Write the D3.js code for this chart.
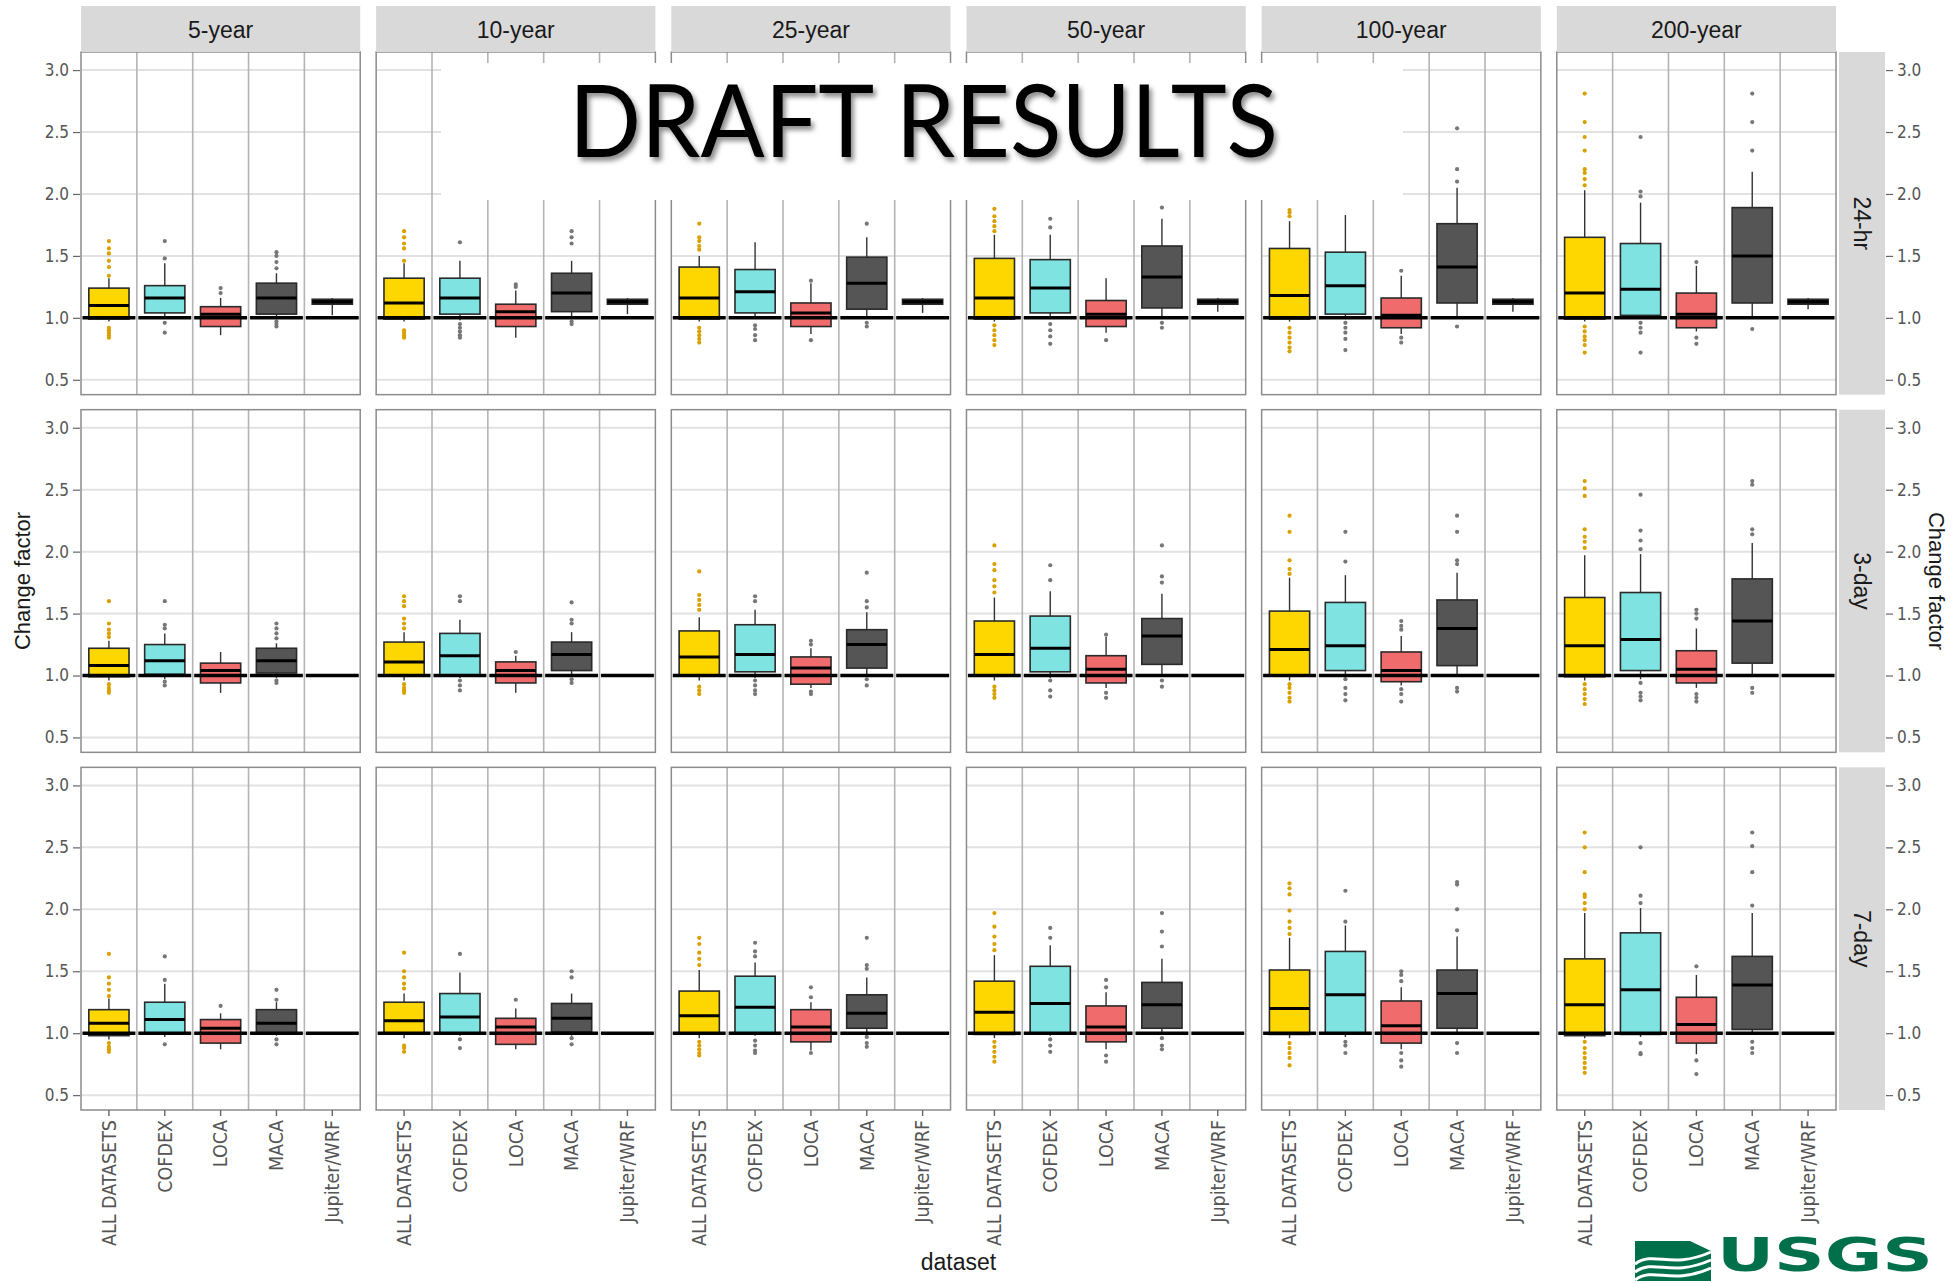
<!DOCTYPE html>
<html>
<head>
<meta charset="utf-8">
<script src="https://cdn.jsdelivr.net/npm/d3@7"></script>
<style>
  body { margin: 0; background: #fff; }
  svg { display: block; overflow: hidden; }
</style>
</head>
<body>
<svg id="chart" width="1959" height="1283"></svg>
<script>
var returnPeriods = ["5-year", "10-year", "25-year", "50-year", "100-year", "200-year"];
var durations = ["24-hr", "3-day", "7-day"];
var datasets = ["ALL DATASETS", "COFDEX", "LOCA", "MACA", "Jupiter/WRF"];
var yTicks = [0.5, 1.0, 1.5, 2.0, 2.5, 3.0];

// box stats per return period, per dataset: [low whisker, q1, median, q3, high whisker]
var box24hr = [
  [[0.97, 0.99, 1.10, 1.24, 1.32], [1.00, 1.04, 1.16, 1.26, 1.44], [0.86, 0.93, 1.03, 1.09, 1.16], [1.00, 1.03, 1.16, 1.28, 1.36], [1.02, 1.11, 1.13, 1.15, 1.16]],
  [[0.97, 0.99, 1.12, 1.32, 1.44], [0.98, 1.03, 1.16, 1.32, 1.46], [0.84, 0.93, 1.05, 1.11, 1.22], [1.00, 1.05, 1.20, 1.36, 1.46], [1.03, 1.11, 1.13, 1.15, 1.16]],
  [[0.97, 0.99, 1.16, 1.41, 1.50], [0.99, 1.04, 1.21, 1.39, 1.61], [0.87, 0.93, 1.04, 1.12, 1.28], [1.00, 1.07, 1.28, 1.49, 1.65], [1.04, 1.11, 1.13, 1.15, 1.16]],
  [[0.97, 0.99, 1.16, 1.48, 1.67], [0.99, 1.04, 1.24, 1.47, 1.67], [0.88, 0.93, 1.03, 1.14, 1.32], [1.00, 1.08, 1.33, 1.58, 1.80], [1.05, 1.11, 1.13, 1.15, 1.16]],
  [[0.97, 0.99, 1.18, 1.56, 1.78], [0.99, 1.03, 1.26, 1.53, 1.83], [0.87, 0.92, 1.02, 1.16, 1.34], [1.00, 1.12, 1.41, 1.76, 2.05], [1.05, 1.11, 1.13, 1.15, 1.16]],
  [[0.97, 0.99, 1.20, 1.65, 2.03], [0.99, 1.02, 1.23, 1.60, 1.93], [0.89, 0.92, 1.03, 1.20, 1.42], [1.00, 1.12, 1.50, 1.89, 2.18], [1.07, 1.11, 1.13, 1.15, 1.16]]
];
var out24hr = [
  [[1.34, 1.41, 1.46, 1.52, 1.56, 1.62, 0.92, 0.90, 0.88, 0.86, 0.84], [1.48, 1.62, 0.96, 0.88], [1.20, 1.24], [1.40, 1.45, 1.50, 1.53, 0.97, 0.95, 0.93], []],
  [[1.46, 1.56, 1.60, 1.65, 1.70, 0.90, 0.88, 0.86, 0.84], [1.61, 0.95, 0.92, 0.89, 0.86, 0.84], [1.25, 1.27], [1.60, 1.65, 1.70, 0.97, 0.95], []],
  [[1.55, 1.58, 1.62, 1.65, 1.76, 0.92, 0.89, 0.86, 0.83, 0.80], [0.94, 0.91, 0.86, 0.82], [1.30, 0.82], [1.76, 0.96, 0.93], []],
  [[1.70, 1.74, 1.78, 1.82, 1.88, 0.94, 0.90, 0.86, 0.82, 0.78], [1.73, 1.80, 0.95, 0.90, 0.85, 0.79], [0.82], [1.89, 0.96, 0.92], []],
  [[1.82, 1.85, 1.87, 0.92, 0.88, 0.84, 0.80, 0.76, 0.73], [0.96, 0.92, 0.88, 0.83, 0.74], [1.38, 0.84, 0.80], [2.10, 2.20, 2.53, 0.93], []],
  [[2.07, 2.12, 2.17, 2.20, 2.35, 2.46, 2.58, 2.81, 0.93, 0.89, 0.85, 0.82, 0.78, 0.72], [1.98, 2.02, 2.46, 0.96, 0.92, 0.88, 0.72], [1.45, 0.84, 0.79], [2.35, 2.58, 2.81, 0.91], []]
];

var box3day = [
  [[0.96, 0.99, 1.08, 1.22, 1.28], [0.97, 1.01, 1.12, 1.25, 1.34], [0.86, 0.94, 1.04, 1.10, 1.19], [0.98, 1.02, 1.12, 1.22, 1.26], null],
  [[0.96, 1.00, 1.11, 1.27, 1.35], [0.98, 1.00, 1.16, 1.34, 1.45], [0.86, 0.94, 1.04, 1.11, 1.16], [1.00, 1.04, 1.17, 1.27, 1.35], null],
  [[0.96, 1.00, 1.15, 1.36, 1.47], [0.98, 1.03, 1.17, 1.41, 1.53], [0.90, 0.93, 1.06, 1.15, 1.22], [1.00, 1.06, 1.25, 1.37, 1.51], null],
  [[0.96, 1.00, 1.17, 1.44, 1.63], [0.98, 1.03, 1.22, 1.48, 1.68], [0.90, 0.94, 1.05, 1.16, 1.31], [1.00, 1.09, 1.32, 1.46, 1.66], null],
  [[0.96, 1.00, 1.21, 1.52, 1.79], [0.98, 1.04, 1.24, 1.59, 1.81], [0.92, 0.95, 1.04, 1.19, 1.32], [1.00, 1.08, 1.38, 1.61, 1.83], null],
  [[0.96, 0.99, 1.24, 1.63, 1.97], [0.97, 1.04, 1.29, 1.67, 1.98], [0.90, 0.94, 1.05, 1.20, 1.38], [1.00, 1.10, 1.44, 1.78, 2.07], null]
];
var out3day = [
  [[1.31, 1.34, 1.37, 1.42, 1.60, 0.93, 0.90, 0.88, 0.86], [1.38, 1.41, 1.60, 0.95, 0.92], [], [1.30, 1.34, 1.38, 1.42, 0.96, 0.94], []],
  [[1.38, 1.42, 1.46, 1.56, 1.60, 1.64, 0.93, 0.90, 0.88, 0.86], [1.60, 1.64, 0.96, 0.92, 0.88], [1.19], [1.42, 1.45, 1.59, 0.97, 0.94], []],
  [[1.53, 1.57, 1.61, 1.65, 1.84, 0.91, 0.88, 0.85], [1.60, 1.64, 0.96, 0.92, 0.88, 0.85], [1.25, 1.28, 0.87, 0.85], [1.55, 1.60, 1.83, 0.97, 0.92], []],
  [[1.67, 1.72, 1.77, 1.85, 1.90, 2.05, 0.91, 0.88, 0.85, 0.82], [1.77, 1.89, 0.96, 0.88, 0.83], [1.33, 0.86, 0.82], [1.75, 1.80, 2.05, 0.96, 0.91], []],
  [[1.82, 1.86, 1.93, 2.16, 2.29, 0.93, 0.90, 0.86, 0.82, 0.79], [1.92, 2.16, 0.97, 0.90, 0.85, 0.80], [1.37, 1.40, 1.44, 0.89, 0.85, 0.79], [1.90, 1.93, 2.16, 2.29, 0.90, 0.87], []],
  [[2.03, 2.08, 2.12, 2.18, 2.45, 2.51, 2.57, 0.93, 0.89, 0.85, 0.81, 0.77], [2.02, 2.09, 2.17, 2.46, 0.94, 0.86, 0.83, 0.80], [1.46, 1.50, 1.53, 0.85, 0.82, 0.79], [2.14, 2.18, 2.54, 2.57, 0.90, 0.86], []]
];

var box7day = [
  [[0.95, 0.98, 1.08, 1.19, 1.28], [0.97, 1.00, 1.11, 1.25, 1.40], [0.87, 0.92, 1.04, 1.11, 1.16], [0.98, 1.00, 1.08, 1.19, 1.25], null],
  [[0.96, 1.00, 1.10, 1.25, 1.32], [0.98, 1.00, 1.13, 1.32, 1.49], [0.87, 0.91, 1.05, 1.12, 1.20], [0.98, 1.01, 1.12, 1.24, 1.32], null],
  [[0.96, 1.00, 1.14, 1.34, 1.51], [0.98, 1.00, 1.21, 1.46, 1.57], [0.86, 0.93, 1.05, 1.19, 1.25], [0.99, 1.04, 1.16, 1.31, 1.45], null],
  [[0.96, 0.99, 1.17, 1.42, 1.63], [0.98, 1.00, 1.24, 1.54, 1.71], [0.87, 0.93, 1.05, 1.22, 1.33], [0.99, 1.04, 1.23, 1.41, 1.60], null],
  [[0.96, 0.99, 1.20, 1.51, 1.77], [0.97, 1.00, 1.31, 1.66, 1.87], [0.87, 0.92, 1.06, 1.26, 1.37], [1.00, 1.04, 1.32, 1.51, 1.78], null],
  [[0.96, 0.98, 1.23, 1.60, 1.97], [0.97, 0.99, 1.35, 1.81, 2.01], [0.83, 0.92, 1.07, 1.29, 1.47], [1.00, 1.03, 1.39, 1.62, 1.97], null]
];
var out7day = [
  [[1.30, 1.35, 1.40, 1.45, 1.64, 0.92, 0.89, 0.87, 0.85], [1.43, 1.62, 0.91], [1.22], [1.27, 1.35, 0.95, 0.91], []],
  [[1.36, 1.40, 1.45, 1.50, 1.65, 0.90, 0.88, 0.85], [1.64, 0.95, 0.88], [1.27], [1.45, 1.50, 0.96, 0.91], []],
  [[1.55, 1.60, 1.65, 1.72, 1.77, 0.93, 0.90, 0.87, 0.84, 0.82], [1.62, 1.66, 1.73, 0.94, 0.90, 0.86, 0.84], [1.29, 1.37, 0.84], [1.52, 1.55, 1.77, 0.97, 0.92, 0.89], []],
  [[1.67, 1.72, 1.78, 1.86, 1.97, 0.93, 0.89, 0.85, 0.81, 0.77], [1.77, 1.85, 0.95, 0.90, 0.85], [1.37, 1.43, 0.82, 0.77], [1.70, 1.82, 1.97, 0.96, 0.90, 0.87], []],
  [[1.80, 1.85, 1.90, 1.99, 2.12, 2.17, 2.21, 0.92, 0.88, 0.84, 0.80, 0.74], [1.90, 2.15, 0.93, 0.90, 0.84], [1.42, 1.47, 1.50, 0.84, 0.78, 0.73], [1.83, 2.00, 2.20, 2.22, 0.92, 0.84], []],
  [[2.00, 2.05, 2.10, 2.12, 2.30, 2.50, 2.62, 0.93, 0.88, 0.84, 0.80, 0.76, 0.72, 0.68], [2.05, 2.11, 2.50, 0.92, 0.84, 0.83], [1.54, 0.78, 0.67], [2.03, 2.30, 2.51, 2.62, 0.93, 0.88, 0.84], []]
];

var boxes = { "24-hr": box24hr, "3-day": box3day, "7-day": box7day };
var outliers = { "24-hr": out24hr, "3-day": out3day, "7-day": out7day };

var fills = ["#FFD700", "#7FE3E1", "#F06B6B", "#555555", "#1a1a1a"];
var dotColors = ["#D9A000", "#777777", "#777777", "#777777", "#777777"];
var font = "'Liberation Sans', Arial, sans-serif";
var narrow = "'Liberation Sans Narrow', 'DejaVu Sans Condensed', 'Liberation Sans', sans-serif";

var svg = d3.select("#chart");

var defs = svg.append("defs");
defs.append("filter").attr("id", "shadow")
    .attr("x", "-5%").attr("y", "-20%").attr("width", "110%").attr("height", "150%")
  .append("feDropShadow")
    .attr("dx", 3).attr("dy", 4).attr("stdDeviation", 2.5)
    .attr("flood-color", "#000").attr("flood-opacity", 0.45);

var col = d3.scaleBand().domain(returnPeriods).range([81, 1836]).paddingInner(0.054);
var row = d3.scaleBand().domain(durations).range([52, 1110]).paddingInner(0.042);
var xIn = d3.scaleBand().domain(datasets).range([0, col.bandwidth()]);
var boxW = xIn.bandwidth() * 0.72;
var pw = col.bandwidth();

durations.forEach(function(dur, i) {
    var top = row(dur), bottom = top + row.bandwidth();
    var y = d3.scaleLinear().domain([0.38, 3.146]).range([bottom, top]);

    returnPeriods.forEach(function(rp, j) {
        var g = svg.append("g").attr("transform", "translate(" + col(rp) + ",0)");

        g.append("rect").attr("x", 0).attr("y", top).attr("width", pw).attr("height", row.bandwidth())
            .attr("fill", "#fff");

        // horizontal grid
        g.selectAll(".hgrid").data(yTicks).enter().append("line")
            .attr("x1", 0).attr("x2", pw)
            .attr("y1", function(d) { return y(d); }).attr("y2", function(d) { return y(d); })
            .attr("stroke", "#e2e2e2").attr("stroke-width", 2);

        // vertical lines between datasets
        g.selectAll(".vgrid").data(datasets.slice(1)).enter().append("line")
            .attr("x1", function(d) { return xIn(d); }).attr("x2", function(d) { return xIn(d); })
            .attr("y1", top).attr("y2", bottom)
            .attr("stroke", "#b4b4b4").attr("stroke-width", 1.6);

        var stats = boxes[dur][j];
        var outs = outliers[dur][j];

        datasets.forEach(function(ds, k) {
            var s = stats[k];
            if (!s) return;
            var cx = xIn(ds) + xIn.bandwidth() / 2;
            var bg = g.append("g");
            bg.append("line").attr("x1", cx).attr("x2", cx)
                .attr("y1", y(s[0])).attr("y2", y(s[1]))
                .attr("stroke", "#333").attr("stroke-width", 1.4);
            bg.append("line").attr("x1", cx).attr("x2", cx)
                .attr("y1", y(s[3])).attr("y2", y(s[4]))
                .attr("stroke", "#333").attr("stroke-width", 1.4);
            bg.append("rect")
                .attr("x", cx - boxW / 2).attr("width", boxW)
                .attr("y", y(s[3])).attr("height", y(s[1]) - y(s[3]))
                .attr("fill", fills[k]).attr("stroke", "#2a2a2a").attr("stroke-width", 1.6);
            bg.append("line").attr("x1", cx - boxW / 2).attr("x2", cx + boxW / 2)
                .attr("y1", y(s[2])).attr("y2", y(s[2]))
                .attr("stroke", "#000").attr("stroke-width", 3);
            bg.selectAll("circle").data(outs[k]).enter().append("circle")
                .attr("cx", cx).attr("cy", function(d) { return y(d); })
                .attr("r", 2.1).attr("fill", dotColors[k]);
        });

        // reference line at 1.0
        g.selectAll(".ref").data(datasets).enter().append("line")
            .attr("x1", function(d) { return xIn(d) + 1.5; })
            .attr("x2", function(d) { return xIn(d) + xIn.bandwidth() - 1.5; })
            .attr("y1", y(1)).attr("y2", y(1))
            .attr("stroke", "#000").attr("stroke-width", 3.5);

        g.append("rect").attr("x", 0).attr("y", top).attr("width", pw).attr("height", row.bandwidth())
            .attr("fill", "none").attr("stroke", "#8c8c8c").attr("stroke-width", 1.5);

        // column strip
        if (i === 0) {
            g.append("rect").attr("x", 0).attr("y", 6).attr("width", pw).attr("height", top - 6)
                .attr("fill", "#d9d9d9");
            g.append("text").attr("x", pw / 2).attr("y", 38)
                .attr("text-anchor", "middle").attr("font-family", font).attr("font-size", 23)
                .attr("fill", "#1a1a1a").text(rp);
        }

        // bottom axis
        if (i === durations.length - 1) {
            var ax = g.append("g").attr("transform", "translate(0," + bottom + ")")
                .call(d3.axisBottom(xIn).tickSize(6).tickPadding(0));
            ax.select(".domain").remove();
            ax.selectAll(".tick line").attr("stroke", "#666").attr("stroke-width", 1.4);
            ax.selectAll(".tick text")
                .attr("transform", "rotate(-90)")
                .attr("x", -10).attr("y", 0).attr("dy", "0.35em")
                .attr("text-anchor", "end")
                .attr("font-family", narrow).attr("font-size", 19.5).attr("fill", "#555");
        }
    });

    // left axis
    var la = svg.append("g").attr("transform", "translate(80,0)")
        .call(d3.axisLeft(y).tickValues(yTicks).tickFormat(d3.format(".1f")).tickSize(7).tickPadding(4));
    la.select(".domain").remove();
    la.selectAll(".tick line").attr("stroke", "#666").attr("stroke-width", 1.2);
    la.selectAll(".tick text").attr("font-family", narrow).attr("font-size", 17).attr("fill", "#555");

    // row strip
    var sx = col(returnPeriods[5]) + pw + 3;
    svg.append("rect").attr("x", sx).attr("y", top).attr("width", 46).attr("height", row.bandwidth())
        .attr("fill", "#d9d9d9");
    svg.append("text")
        .attr("transform", "translate(" + (sx + 23) + "," + ((top + bottom) / 2) + ") rotate(90)")
        .attr("text-anchor", "middle").attr("dy", "0.35em")
        .attr("font-family", font).attr("font-size", 23).attr("fill", "#1a1a1a").text(dur);

    // right axis
    var ra = svg.append("g").attr("transform", "translate(" + (sx + 47) + ",0)")
        .call(d3.axisRight(y).tickValues(yTicks).tickFormat(d3.format(".1f")).tickSize(7).tickPadding(4));
    ra.select(".domain").remove();
    ra.selectAll(".tick line").attr("stroke", "#666").attr("stroke-width", 1.2);
    ra.selectAll(".tick text").attr("font-family", narrow).attr("font-size", 17).attr("fill", "#555");
});

var midY = (row(durations[0]) + row(durations[2]) + row.bandwidth()) / 2;

svg.append("text")
    .attr("transform", "translate(22," + midY + ") rotate(-90)")
    .attr("text-anchor", "middle").attr("dy", "0.35em")
    .attr("font-family", font).attr("font-size", 22).attr("fill", "#1a1a1a")
    .text("Change factor");

svg.append("text")
    .attr("transform", "translate(1937," + midY + ") rotate(90)")
    .attr("text-anchor", "middle").attr("dy", "0.35em")
    .attr("font-family", font).attr("font-size", 22).attr("fill", "#1a1a1a")
    .text("Change factor");

svg.append("text")
    .attr("x", (81 + 1836) / 2).attr("y", 1270)
    .attr("text-anchor", "middle")
    .attr("font-family", font).attr("font-size", 23).attr("fill", "#1a1a1a")
    .text("dataset");

// draft overlay
svg.append("rect").attr("x", 441).attr("y", 63).attr("width", 962).attr("height", 137).attr("fill", "#fff");
svg.append("text")
    .attr("x", 569).attr("y", 157)
    .attr("textLength", 709).attr("lengthAdjust", "spacingAndGlyphs")
    .attr("font-family", "Lato, 'Open Sans', sans-serif").attr("font-size", 100)
    .attr("fill", "#000").attr("filter", "url(#shadow)")
    .text("DRAFT RESULTS");

// USGS logo
var logo = svg.append("g");
logo.append("rect").attr("x", 1635).attr("y", 1241).attr("width", 76).attr("height", 40).attr("fill", "#00704A");
[1260, 1268, 1276].forEach(function(yy) {
    logo.append("path")
        .attr("d", "M1635," + (yy + 4) + " C1655," + (yy - 10) + " 1670," + (yy + 10) + " 1711," + (yy - 8))
        .attr("fill", "none").attr("stroke", "#fff").attr("stroke-width", 3);
});
logo.append("path").attr("d", "M1690,1241 L1711,1241 L1711,1251 Z").attr("fill", "#fff");
logo.append("text")
    .attr("x", 1717).attr("y", 1271)
    .attr("textLength", 216).attr("lengthAdjust", "spacingAndGlyphs")
    .attr("font-family", narrow).attr("font-weight", "bold").attr("font-size", 46)
    .attr("fill", "#00704A").text("USGS");
</script>
</body>
</html>
